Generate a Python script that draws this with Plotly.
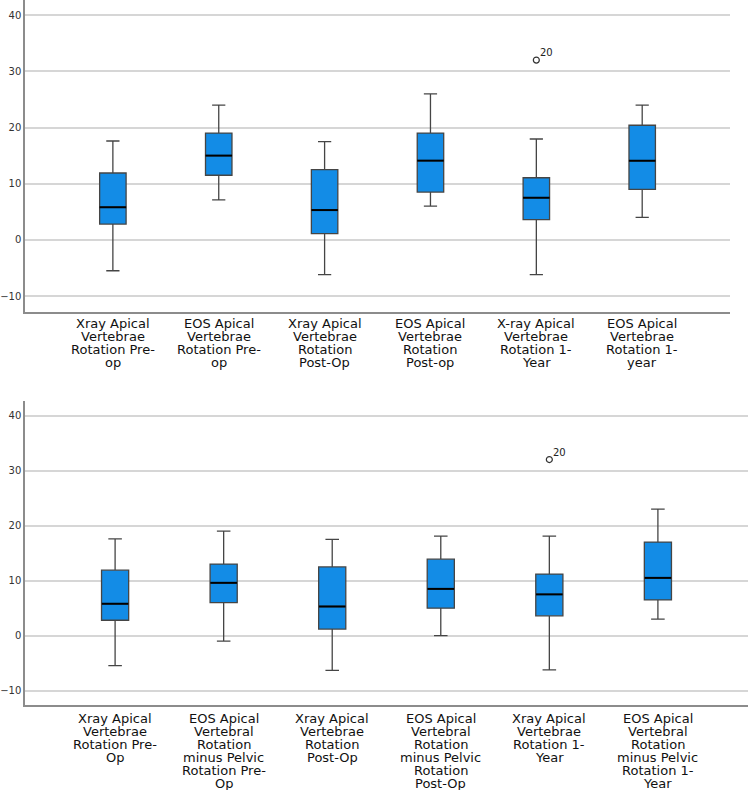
import plotly.graph_objects as go

# ---------------- data ----------------
top_labels = [
    ["Xray Apical", "Vertebrae", "Rotation Pre-", "op"],
    ["EOS Apical", "Vertebrae", "Rotation Pre-", "op"],
    ["Xray Apical", "Vertebrae", "Rotation", "Post-Op"],
    ["EOS Apical", "Vertebrae", "Rotation", "Post-op"],
    ["X-ray Apical", "Vertebrae", "Rotation 1-", "Year"],
    ["EOS Apical", "Vertebrae", "Rotation 1-", "year"],
]
top_lower = [-5.5, 7.1, -6.2, 6.0, -6.2, 4.0]
top_q1 = [2.8, 11.5, 1.1, 8.5, 3.6, 9.0]
top_median = [5.8, 15.0, 5.3, 14.1, 7.5, 14.1]
top_q3 = [11.9, 19.0, 12.5, 19.0, 11.05, 20.4]
top_upper = [17.6, 24.0, 17.5, 26.0, 17.95, 24.0]
top_outlier_cat = [4]
top_outlier_val = [32.0]
top_outlier_lbl = ["20"]

bot_labels = [
    ["Xray Apical", "Vertebrae", "Rotation Pre-", "Op"],
    ["EOS Apical", "Vertebral", "Rotation", "minus Pelvic", "Rotation Pre-", "Op"],
    ["Xray Apical", "Vertebrae", "Rotation", "Post-Op"],
    ["EOS Apical", "Vertebral", "Rotation", "minus Pelvic", "Rotation", "Post-Op"],
    ["Xray Apical", "Vertebrae", "Rotation 1-", "Year"],
    ["EOS Apical", "Vertebral", "Rotation", "minus Pelvic", "Rotation 1-", "Year"],
]
bot_lower = [-5.45, -1.0, -6.3, 0.0, -6.2, 3.0]
bot_q1 = [2.8, 6.0, 1.2, 5.0, 3.6, 6.5]
bot_median = [5.8, 9.6, 5.3, 8.5, 7.5, 10.5]
bot_q3 = [11.9, 13.0, 12.5, 13.9, 11.2, 17.0]
bot_upper = [17.6, 19.0, 17.5, 18.1, 18.1, 23.0]
bot_outlier_cat = [4]
bot_outlier_val = [32.0]
bot_outlier_lbl = ["20"]

y_ticks = [-10, 0, 10, 20, 30, 40]

# ---------------- style ----------------
BOX_FILL = "#138ce6"
BOX_LINE = "#454545"
GRID = "#d6d6d6"
AXIS = "#8c8c8c"
FONT = "DejaVu Sans"
LINE_H = 13.0

fig = go.Figure()


def add_panel(labels, lower, q1, med, q3, upper, oc, ov, ol, xa, ya, first_off):
    cats = [" ".join(l) for l in labels]
    fig.add_trace(go.Box(
        x=cats, q1=q1, median=med, q3=q3, lowerfence=lower, upperfence=upper,
        xaxis=xa, yaxis=ya, width=0.25, whiskerwidth=0.5,
        fillcolor=BOX_FILL, line=dict(color=BOX_LINE, width=1.3),
        boxpoints=False, hoverinfo="skip", showlegend=False,
    ))
    fig.add_trace(go.Scatter(
        x=cats, y=med, xaxis=xa, yaxis=ya, mode="markers",
        marker=dict(symbol="line-ew", size=19, color="black",
                    line=dict(color="black", width=2)),
        hoverinfo="skip", showlegend=False,
    ))
    fig.add_trace(go.Scatter(
        x=[cats[i] for i in oc], y=ov, xaxis=xa, yaxis=ya,
        mode="markers", 
        marker=dict(symbol="circle-open", size=6, color="#333",
                    line=dict(color="#333", width=1.2)),
        hoverinfo="skip", showlegend=False,
    ))
    axref = "x" if xa == "x" else xa
    yref = "y" if ya == "y" else ya
    for i, v, t in zip(oc, ov, ol):
        fig.add_annotation(
            x=cats[i], xref=axref, y=v, yref=yref, text=t, showarrow=False,
            xanchor="left", yanchor="bottom", xshift=2, yshift=0,
            font=dict(family=FONT, size=10, color="#222"),
        )
    ydom = yref + " domain"
    for cat, lines in zip(cats, labels):
        for j, txt in enumerate(lines):
            fig.add_annotation(
                x=cat, xref=axref, y=0, yref=ydom, text=txt,
                showarrow=False, xanchor="center", yanchor="middle",
                yshift=-(first_off + j * LINE_H),
                font=dict(family=FONT, size=13, color="#111"),
            )
    return cats


add_panel(top_labels, top_lower, top_q1, top_median, top_q3, top_upper,
          top_outlier_cat, top_outlier_val, top_outlier_lbl, "x", "y", 11.5)
add_panel(bot_labels, bot_lower, bot_q1, bot_median, bot_q3, bot_upper,
          bot_outlier_cat, bot_outlier_val, bot_outlier_lbl, "x2", "y2", 13.5)

axis_common = dict(showgrid=False, zeroline=False, showline=True,
                   linecolor=AXIS, linewidth=1.5, ticks="",
                   showticklabels=False, type="category",
                   range=[-0.83, 5.83])
yaxis_common = dict(showgrid=True, gridcolor=GRID, gridwidth=1.5,
                    zeroline=False, showline=True, linecolor=AXIS,
                    linewidth=1.5, ticks="", tickvals=y_ticks,
                    tickfont=dict(family=FONT, size=10, color="#333"))

fig.update_layout(
    width=750, height=790,
    margin=dict(l=23, r=2, t=0, b=0),
    paper_bgcolor="white", plot_bgcolor="white",
    showlegend=False,
    xaxis=dict(domain=[0, 0.9752], anchor="y", **axis_common),
    yaxis=dict(domain=[0.6054, 1.0], anchor="x", range=[-12.8, 42.7], **yaxis_common),
    xaxis2=dict(domain=[0, 1.0], anchor="y2", **axis_common),
    yaxis2=dict(domain=[0.1076, 0.4928], anchor="x2", range=[-12.6, 42.7], **yaxis_common),
)

fig.write_html("out.html")
